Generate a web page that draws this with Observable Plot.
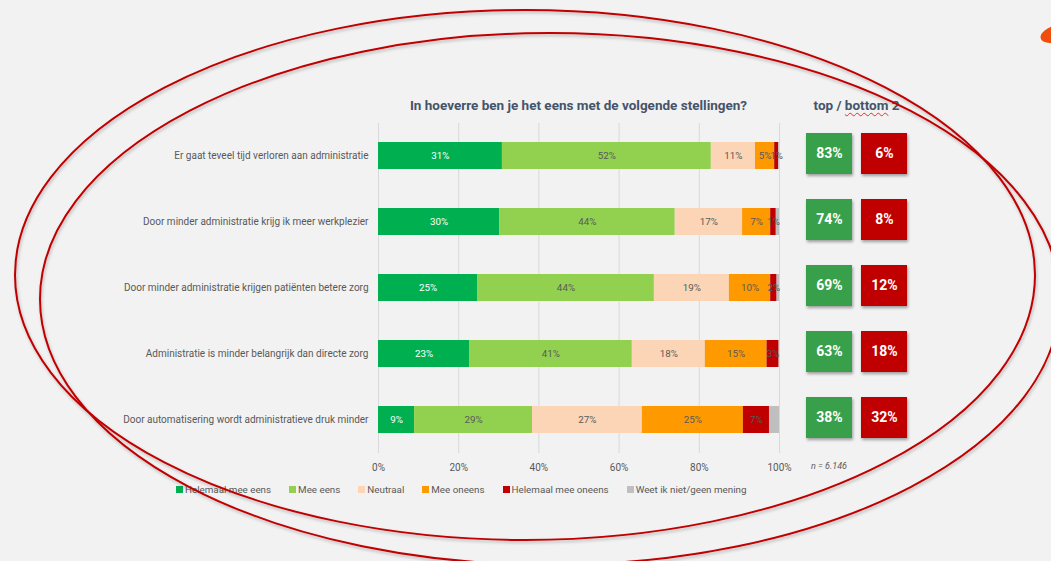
<!DOCTYPE html>
<html><head><meta charset="utf-8">
<script src="https://cdn.jsdelivr.net/npm/d3@7"></script>
<script src="https://cdn.jsdelivr.net/npm/@observablehq/plot@0.6"></script>
<style>
body{margin:0;background:#F2F2F2;}
#root{position:relative;width:1051px;height:561px;overflow:hidden;background:#F2F2F2;font-family:Roboto,"Liberation Sans",sans-serif;}
.abs{position:absolute;}
#title{left:378px;width:401px;top:97px;text-align:center;font-weight:bold;font-size:13.5px;color:#44546A;white-space:nowrap;}
#title2{left:806px;width:101px;top:97px;text-align:center;font-weight:bold;font-size:13.5px;color:#44546A;white-space:nowrap;}
#title2 u{text-decoration:underline wavy #E03030;text-decoration-thickness:1px;text-underline-offset:2px;}
#n{left:811px;top:461px;font-size:9px;font-style:italic;color:#595959;}
#legend{left:176px;top:484px;display:flex;gap:18px;font-size:9.8px;color:#595959;}
#legend .it{display:flex;align-items:center;gap:2px;}
#legend .sw{width:7px;height:7px;display:inline-block;}
.boxes rect{filter:drop-shadow(1px 2px 1.5px rgba(0,0,0,0.35));}
#deco{left:0;top:0;pointer-events:none;}
</style></head><body><div id="root"></div>
<script>
const statements = [
  "Er gaat teveel tijd verloren aan administratie",
  "Door minder administratie krijg ik meer werkplezier",
  "Door minder administratie krijgen patiënten betere zorg",
  "Administratie is minder belangrijk dan directe zorg",
  "Door automatisering wordt administratieve druk minder"
];
const categories = ["Helemaal mee eens","Mee eens","Neutraal","Mee oneens","Helemaal mee oneens","Weet ik niet/geen mening"];
const categoryColors = ["#00B050","#92D050","#FBD5B5","#FF9900","#C00000","#BFBFBF"];
const helemaalMeeEens   = [30.9, 30.2, 24.7, 22.7, 9.0];
const meeEens           = [52.1, 43.8, 44.1, 40.6, 29.4];
const neutraal          = [11.0, 16.8, 18.7, 18.2, 27.4];
const meeOneens         = [4.8, 7.0, 10.3, 15.4, 25.2];
const helemaalMeeOneens = [1.0, 1.4, 1.6, 3.0, 6.5];
const weetIkNiet        = [0.2, 0.8, 0.6, 0.1, 2.5];
const topTwo    = [83, 74, 69, 63, 38];
const bottomTwo = [6, 8, 12, 18, 32];
const boxKinds = ["top", "bottom"];
const boxColors = ["#38A04A", "#C00000"];
const xTicks = [0, 20, 40, 60, 80, 100];

const series = [helemaalMeeEens, meeEens, neutraal, meeOneens, helemaalMeeOneens, weetIkNiet];
const rows = [];
statements.forEach((s, i) => series.forEach((arr, j) => rows.push({statement: s, category: categories[j], value: arr[i]})));
const boxes = [];
statements.forEach((s, i) => {
  boxes.push({statement: s, kind: "top", value: topTwo[i]});
  boxes.push({statement: s, kind: "bottom", value: bottomTwo[i]});
});

const root = document.getElementById("root");
const font = 'Roboto, "Liberation Sans", sans-serif';

const main = Plot.plot({
  width: 784, height: 355,
  marginLeft: 378, marginRight: 5, marginTop: 0, marginBottom: 25,
  style: {background: "transparent", fontFamily: font, fontSize: "10px", color: "#595959", overflow: "visible"},
  x: {domain: [0, 100], ticks: xTicks, tickFormat: d => d + "%", tickSize: 0, tickPadding: 10, label: null},
  y: {domain: statements, paddingInner: 0.59, paddingOuter: 0.295, tickSize: 0, tickPadding: 10, label: null},
  color: {domain: categories, range: categoryColors},
  marks: [
    Plot.ruleX(xTicks, {stroke: "#D9D9D9", strokeWidth: 1}),
    Plot.barX(rows, Plot.stackX({x: "value", y: "statement", fill: "category", order: categories})),
    Plot.text(rows, Plot.stackX({x: "value", y: "statement", z: "category", order: categories,
      text: d => (d.category === categories[0] ? Math.round(d.value) + "%" : null), fill: "white", fontSize: 9.8})),
    Plot.text(rows, Plot.stackX({x: "value", y: "statement", z: "category", order: categories,
      text: d => (d.category !== categories[0] && d.category !== categories[5] ? Math.round(d.value) + "%" : null), fill: "#595959", fontSize: 9.8}))
  ]
});
main.classList.add("abs");
main.style.left = "0px"; main.style.top = "123px";
root.appendChild(main);

const side = Plot.plot({
  className: "boxes",
  width: 127, height: 330,
  marginLeft: 16, marginRight: 10, marginTop: 0, marginBottom: 0,
  style: {background: "transparent", fontFamily: font, overflow: "visible"},
  x: {domain: boxKinds, paddingInner: 0.164, paddingOuter: 0, axis: null},
  y: {domain: statements, paddingInner: 0.38, paddingOuter: 0.19, axis: null},
  color: {domain: boxKinds, range: boxColors},
  marks: [
    Plot.cell(boxes, {x: "kind", y: "statement", fill: "kind"}),
    Plot.text(boxes, {x: "kind", y: "statement", text: d => d.value + "%", fill: "white", fontWeight: "bold", fontSize: 14})
  ]
});
side.classList.add("abs");
side.style.left = "790px"; side.style.top = "120px";
root.appendChild(side);

const t1 = document.createElement("div");
t1.id = "title"; t1.className = "abs";
t1.textContent = "In hoeverre ben je het eens met de volgende stellingen?";
root.appendChild(t1);
const t2 = document.createElement("div");
t2.id = "title2"; t2.className = "abs";
t2.innerHTML = "top / <u>bottom</u> 2";
root.appendChild(t2);
const n = document.createElement("div");
n.id = "n"; n.className = "abs"; n.textContent = "n = 6.146";
root.appendChild(n);

const lg = document.createElement("div");
lg.id = "legend"; lg.className = "abs";
categories.forEach((c, i) => {
  const it = document.createElement("div"); it.className = "it";
  const sw = document.createElement("span"); sw.className = "sw"; sw.style.background = categoryColors[i];
  const tx = document.createElement("span"); tx.textContent = c;
  it.appendChild(sw); it.appendChild(tx); lg.appendChild(it);
});
root.appendChild(lg);

// decorative hand-drawn ellipses overlay
const ns = "http://www.w3.org/2000/svg";
const deco = document.createElementNS(ns, "svg");
deco.setAttribute("width", 1051); deco.setAttribute("height", 561);
deco.setAttribute("id", "deco"); deco.classList.add("abs");
deco.innerHTML = `<defs><filter id="sh" x="-10%" y="-10%" width="120%" height="120%"><feDropShadow dx="1" dy="2" stdDeviation="1.5" flood-color="#000" flood-opacity="0.25"/></filter></defs>
<g filter="url(#sh)" fill="none" stroke="#C00000" stroke-width="2">
<ellipse cx="525" cy="275" rx="510" ry="265"/>
<ellipse cx="550" cy="299" rx="510" ry="266"/>
</g>
<ellipse cx="1060" cy="33" rx="20" ry="9" transform="rotate(-15 1060 33)" fill="#F04E0A"/>`;
root.appendChild(deco);
</script></body></html>
